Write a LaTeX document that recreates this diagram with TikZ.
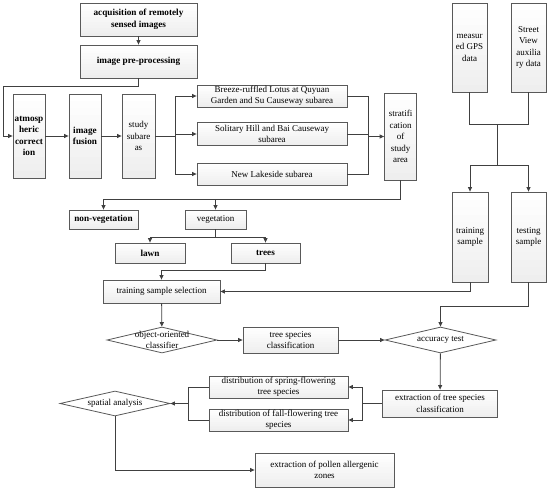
\documentclass[tikz,border=0pt]{standalone}
\usepackage{fontspec}
\setmainfont{Liberation Serif}
\usetikzlibrary{arrows.meta,shapes.geometric,calc}
\tikzset{
  grad/.style={path picture={
    \foreach \k in {0,...,11}{
      \pgfmathsetmacro\cc{\k*1.2}
      \fill[gray!\cc] ($(path picture bounding box.north west)!{\k/12}!(path picture bounding box.south west)$)
        rectangle ($(path picture bounding box.north east)!{(\k+1.2)/12}!(path picture bounding box.south east)$);
    }}},
  box/.style={draw=black!65, line width=0.8pt, grad,
    inner sep=0pt, align=center, font=\fontsize{9}{11.5}\selectfont},
  bbox/.style={box, font=\fontsize{9.2}{11.5}\selectfont\bfseries},
  dia/.style={draw=black!65, line width=0.8pt, fill=white, diamond, inner sep=0pt},
  dlab/.style={align=center, font=\fontsize{9}{11.5}\selectfont},
  conn/.style={draw=black!75, line width=0.8pt},
  arr/.style={conn, -{Triangle[length=4.5pt,width=4pt]}}
}
\begin{document}
\begin{tikzpicture}[x=1pt,y=-1pt]
\useasboundingbox (0,0) rectangle (550,490);
% top chain
\node[bbox, minimum width=117pt, minimum height=33pt] (acq) at (138.5,19.5) {acquisition of remotely\\sensed images};
\node[bbox, minimum width=117pt, minimum height=33pt] (pre) at (138.5,61.5) {image pre-processing};
\node[bbox, minimum width=32pt, minimum height=84pt] (atm) at (29,136) {atmosp\\heric\\correct\\ion};
\node[bbox, minimum width=32pt, minimum height=84pt] (fus) at (85,136) {image\\fusion};
\node[box, minimum width=33pt, minimum height=84pt] (stu) at (138.5,136) {study\\subare\\as};
\node[box, minimum width=150pt, minimum height=22pt] (sub1) at (272,96) {Breeze-ruffled Lotus at Quyuan\\Garden and Su Causeway subarea};
\node[box, minimum width=150pt, minimum height=23pt] (sub2) at (272,134) {Solitary Hill and Bai Causeway\\subarea};
\node[box, minimum width=150pt, minimum height=22pt] (sub3) at (272,174) {New Lakeside subarea};
\node[box, minimum width=32pt, minimum height=87pt] (str) at (400.5,136.5) {stratifi\\cation\\of\\study\\area};
% classes
\node[bbox, minimum width=69pt, minimum height=19pt] (nonveg) at (103.5,219.5) {non-vegetation};
\node[box, minimum width=61pt, minimum height=19pt] (veg) at (215.5,219.5) {vegetation};
\node[bbox, minimum width=70pt, minimum height=20pt] (lawn) at (150,253) {lawn};
\node[bbox, minimum width=69pt, minimum height=20pt] (trees) at (265.5,253) {trees};
\node[box, minimum width=117pt, minimum height=23pt] (tss) at (161.5,291.5) {training sample selection};
% right column
\node[box, minimum width=35pt, minimum height=89pt] (gps) at (469.5,47.5) {measur\\ed GPS\\data};
\node[box, minimum width=35pt, minimum height=89pt] (sv) at (528.5,47.5) {Street\\View\\auxilia\\ry data};
\node[box, minimum width=36pt, minimum height=90pt] (trs) at (470,237) {training\\sample};
\node[box, minimum width=35pt, minimum height=90pt] (tes) at (528.5,237) {testing\\sample};
% classification row
\node[dia, minimum width=110pt, minimum height=26pt, label={[dlab]center:object-oriented\\classifier}] (ooc) at (162,340) {};
\node[box, minimum width=95pt, minimum height=26pt] (tsc) at (290.5,340) {tree species\\classification};
\node[dia, minimum width=111pt, minimum height=26pt, label={[dlab]center:accuracy test}] (acc) at (440.5,340) {};
\node[box, minimum width=115pt, minimum height=27pt] (ext) at (440,403.5) {extraction of tree species\\classification};
\node[box, minimum width=139pt, minimum height=22pt] (spr) at (278.5,387) {distribution of spring-flowering\\tree species};
\node[box, minimum width=139pt, minimum height=22pt] (fal) at (278.5,420) {distribution of fall-flowering tree\\species};
\node[dia, minimum width=110pt, minimum height=25pt, label={[dlab]center:spatial analysis}] (sa) at (115,403.5) {};
\node[box, minimum width=139pt, minimum height=34pt] (pol) at (324.5,470) {extraction of pollen allergenic\\zones};
% connectors
\draw[arr] (acq) -- (pre);
\draw[arr] (pre.south) -- (138.5,86) -- (3,86) |- (atm.west);
\draw[arr] (atm) -- (fus);
\draw[arr] (fus) -- (stu);
\draw[conn] (stu.east) -- (175,136);
\draw[conn] (175,96) -- (175,174);
\draw[arr] (175,96) -- (sub1.west);
\draw[arr] (175,134) -- (sub2.west);
\draw[arr] (175,174) -- (sub3.west);
\draw[conn] (sub1.east) -- (368,96) -- (368,174) -- (sub3.east);
\draw[conn] (sub2.east) -- (368,134);
\draw[arr] (368,136.5) -- (str.west);
\draw[conn] (str.south) |- (103.5,199);
\draw[arr] (103.5,199) -- (nonveg.north);
\draw[arr] (215.5,199) -- (veg.north);
\draw[conn] (veg.south) -- (215.5,237);
\draw[arr] (150,237) -- (265.5,237) -- (trees.north);
\draw[arr] (215.5,237) -- (150,237) -- (lawn.north);
\draw[arr] (trees.south) -- (265.5,270) -| (tss.north);
\draw[arr] (tss) -- (ooc);
\draw[arr] (ooc) -- (tsc);
\draw[arr] (tsc) -- (acc);
\draw[conn] (gps.south) |- (497,124);
\draw[conn] (sv.south) |- (497,124);
\draw[conn] (497,124) -- (497,165);
\draw[arr] (497,165) -| (trs.north);
\draw[arr] (497,165) -| (tes.north);
\draw[arr] (trs.south) |- (tss.east);
\draw[arr] (tes.south) |- (440.5,306) -- (acc.north);
\draw[arr] (acc) -- (ext);
\draw[conn] (ext.west) -- (362,403.5);
\draw[arr] (362,403.5) |- (spr.east);
\draw[arr] (362,403.5) |- (fal.east);
\draw[conn] (spr.west) -| (188,403.5);
\draw[conn] (fal.west) -| (188,403.5);
\draw[arr] (188,403.5) -- (sa.east);
\draw[arr] (sa.south) |- (pol.west);
\end{tikzpicture}
\end{document}
